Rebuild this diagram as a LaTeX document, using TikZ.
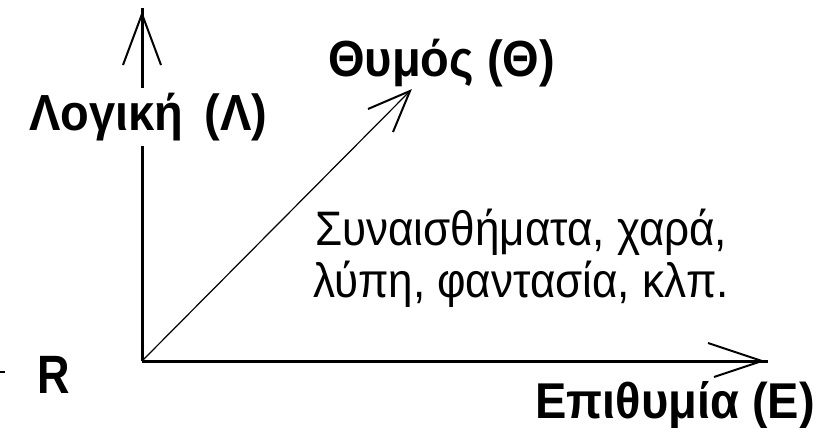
\documentclass[tikz,border=0pt]{standalone}
\usepackage{fontspec}
\setmainfont{Liberation Sans}
\newcommand{\vst}[2]{\scalebox{1}[#1]{#2}}
\begin{document}
\begin{tikzpicture}[x=1pt,y=-1pt,
  axis/.style={line width=3pt},
  arm/.style={line width=2pt},
  diag/.style={line width=1.2pt},
  lbl/.style={anchor=base west,inner sep=0pt,font=\fontsize{47}{52}\selectfont\bfseries},
  txt/.style={anchor=base west,inner sep=0pt,font=\fontsize{44}{52}\selectfont}]
\useasboundingbox[fill=white] (0,0) rectangle (825,428);
\coordinate (O) at (142,361);
\coordinate (T) at (142,8);
\coordinate (R) at (768,361);
\coordinate (D) at (410,91);
\coordinate (Tl) at (123,65);
\coordinate (Tr) at (161,65);
\coordinate (Tt) at (142,14);
\coordinate (Ru) at (708,343);
\coordinate (Rd) at (714,377);
\coordinate (Rt) at (762,361);
\coordinate (Dl) at (368,109);
\coordinate (Dr) at (393,132);
\draw[axis] (O) -- (T);
\draw[axis] (O) -- (R);
\draw[diag] (O) -- (D);
\draw[arm] (Tl) -- (Tt) -- (Tr);
\draw[arm] (Ru) -- (Rt) -- (Rd);
\draw[arm] (Dl) -- (D) -- (Dr);
\coordinate (d1) at (0,372);
\coordinate (d2) at (5,372);
\draw[line width=2pt] (d1) -- (d2);
\node[lbl,fill=white,inner ysep=5pt] (L) at (29,130) {\vst{1.08}{Λογική\hspace{0.45em}(Λ)}};
\node[lbl] (Th) at (328,77) {\vst{1.08}{Θυμός (Θ)}};
\node[lbl] (E) at (535,418) {\vst{1.07}{Επιθυμία (Ε)}};
\node[txt] (s1) at (315,245) {\vst{1.1}{Συναισθήματα, χαρά,}};
\node[txt] (s2) at (313,297) {\vst{1.1}{λύπη, φαντασία, κλπ.}};
\node[txt,font=\fontsize{45}{52}\selectfont\bfseries] (Rl) at (37,393) {\vst{1.2}{R}};
\end{tikzpicture}
\end{document}
